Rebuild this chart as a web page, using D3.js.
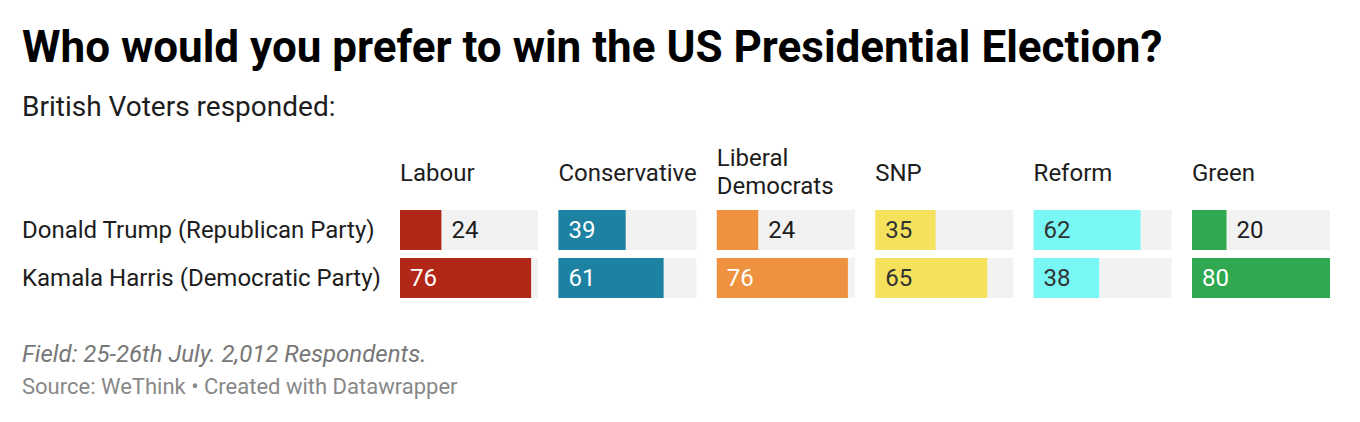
<!DOCTYPE html>
<html>
<head>
<meta charset="utf-8">
<script src="https://cdn.jsdelivr.net/npm/d3@7"></script>
<style>
  html, body { margin: 0; padding: 0; background: #fff; }
  svg { display: block; font-family: Roboto, "Noto Sans", sans-serif; }
</style>
</head>
<body>
<svg id="chart" width="1360" height="422"></svg>
<script>
const parties = ["Labour", "Conservative", "Liberal Democrats", "SNP", "Reform", "Green"];
const partyLabelLines = [["Labour"], ["Conservative"], ["Liberal", "Democrats"], ["SNP"], ["Reform"], ["Green"]];
const partyColors = ["#b22718", "#1d81a2", "#ee9240", "#f5e15b", "#78f7f4", "#2fa850"];
const candidates = ["Donald Trump (Republican Party)", "Kamala Harris (Democratic Party)"];
const trumpValues = [24, 39, 24, 35, 62, 20];
const harrisValues = [76, 61, 76, 65, 38, 80];
const valueMax = 80;

const title = "Who would you prefer to win the US Presidential Election?";
const subtitle = "British Voters responded:";
const note = "Field: 25-26th July. 2,012 Respondents.";
const source = "Source: WeThink • Created with Datawrapper";

const svg = d3.select("#chart");

svg.append("text").attr("x", 22).attr("y", 62)
  .attr("font-size", 44).attr("font-weight", 700).attr("fill", "#000")
  .text(title);
svg.append("text").attr("x", 22).attr("y", 116)
  .attr("font-size", 28).attr("fill", "#1d1d1d")
  .text(subtitle);

const colX = d3.scaleBand().domain(parties).range([400, 1330]).paddingInner(0.1288).paddingOuter(0);
const rowY = d3.scaleBand().domain(candidates).range([210, 298]).paddingInner(1/6).paddingOuter(0);
const xLen = d3.scaleLinear().domain([0, valueMax]).range([0, colX.bandwidth()]);

// column headers
parties.forEach((p, i) => {
  const lines = partyLabelLines[i];
  const t = svg.append("text").attr("x", colX(p)).attr("font-size", 24).attr("fill", "#1d1d1d");
  const baseY = lines.length === 1 ? 181 : 166;
  lines.forEach((ln, j) => {
    t.append("tspan").attr("x", colX(p)).attr("y", baseY + j * 28).text(ln);
  });
});

// row labels
svg.selectAll("text.rowlab").data(candidates).enter().append("text")
  .attr("class", "rowlab")
  .attr("x", 22)
  .attr("y", d => rowY(d) + rowY.bandwidth() / 2)
  .attr("dy", "0.35em")
  .attr("font-size", 24).attr("fill", "#1d1d1d")
  .text(d => d);

const seriesValues = [trumpValues, harrisValues];
function isDark(c) {
  const rgb = d3.rgb(c);
  const l = 0.299 * rgb.r + 0.587 * rgb.g + 0.114 * rgb.b;
  return l < 170;
}

candidates.forEach((cand, r) => {
  const vals = seriesValues[r];
  parties.forEach((p, i) => {
    const x0 = colX(p), y0 = rowY(cand), h = rowY.bandwidth();
    const v = vals[i];
    svg.append("rect").attr("x", x0).attr("y", y0).attr("width", colX.bandwidth()).attr("height", h).attr("fill", "#f2f2f2");
    svg.append("rect").attr("x", x0).attr("y", y0).attr("width", xLen(v)).attr("height", h).attr("fill", partyColors[i]);
    const w = xLen(v);
    const inside = w > 50;
    svg.append("text")
      .attr("x", inside ? x0 + 10 : x0 + w + 10)
      .attr("y", y0 + h / 2)
      .attr("dy", "0.35em")
      .attr("font-size", 24)
      .attr("fill", inside ? (isDark(partyColors[i]) ? "#fff" : "#333") : "#1d1d1d")
      .text(v);
  });
});

svg.append("text").attr("x", 22).attr("y", 362)
  .attr("font-size", 24).attr("font-style", "italic").attr("fill", "#777")
  .text(note);
svg.append("text").attr("x", 22).attr("y", 394)
  .attr("font-size", 22).attr("fill", "#888")
  .text(source);
</script>
</body>
</html>
